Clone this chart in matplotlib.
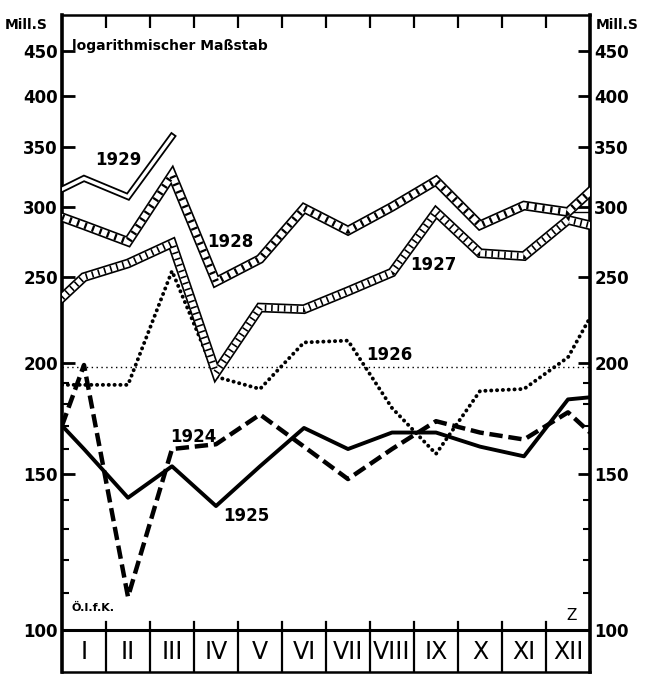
import matplotlib as mpl
mpl.use('Agg')
import matplotlib.pyplot as plt
from matplotlib.ticker import FixedLocator, NullFormatter, FixedFormatter

# month positions: 0.5 = start edge, 1..12 = months, 12.5 = end edge
months = ["I", "II", "III", "IV", "V", "VI", "VII", "VIII", "IX", "X", "XI", "XII"]
x_full = [0.5, 1, 2, 3, 4, 5, 6, 7, 8, 9, 10, 11, 12, 12.5]

v1924 = [170, 199, 109, 160, 162, 175, 161, 148, 160, 172, 167, 164, 176, 167]
v1925 = [170, 160, 141, 153, 138, 153, 169, 160, 167, 167, 161, 157, 182, 183]
v1926 = [189, 189, 189, 254, 193, 187, 211, 212, 178, 158, 186, 187, 203, 225]
v1927 = [237, 250, 259, 273, 195, 231, 230, 241, 253, 296, 266, 264, 290, 286]
v1928 = [292, 286, 274, 326, 247, 262, 299, 282, 300, 321, 286, 301, 296, 312]
x1929 = [0.5, 1, 2, 3]
v1929 = [314, 323, 308, 360]
ref_level = 198

yticks = [100, 150, 200, 250, 300, 350, 400, 450]
yminor = [110, 120, 130, 140, 160, 170, 180, 190]

# label positions (month units, value)
labels = [("1929", 1.77, 339), ("1928", 4.32, 274), ("1927", 8.93, 258),
          ("1926", 7.93, 204), ("1924", 3.48, 165), ("1925", 4.70, 134.5)]

fig = plt.figure(figsize=(6.48, 6.76), dpi=100)
ax = fig.add_axes([62 / 648, 4 / 676, 528 / 648, 657 / 676])
ax.set_yscale('log')
ax.set_xlim(0.5, 12.5)
ax.set_ylim(89.7, 493.6)


def band(x, y, dashes):
    ax.plot(x, y, color='black', lw=7.0, solid_joinstyle='miter', zorder=3)
    ax.plot(x, y, color='white', lw=4.6, solid_joinstyle='miter', zorder=4)
    ax.plot(x, y, color='black', lw=4.6, linestyle=(0, dashes),
            dash_capstyle='butt', zorder=5)


# reference line
ax.plot([0.5, 12.5], [ref_level, ref_level], color='black', lw=1.0,
        linestyle=(0, (1, 2.5)), zorder=2)

band(x_full, v1927, (0.25, 0.75))
band(x_full, v1928, (0.35, 0.9))
# thin line after XII for 1928
ax.plot([12, 12.5], [v1928[-2], v1928[-2]], color='black', lw=1.0, zorder=2)

# 1929 double line
ax.plot(x1929, v1929, color='black', lw=5.0, solid_joinstyle='miter', zorder=3)
ax.plot(x1929, v1929, color='white', lw=2.4, solid_joinstyle='miter', zorder=4)

ax.plot(x_full, v1926, color='black', lw=2.8, linestyle=(0, (0.05, 1.45)),
        dash_capstyle='round', zorder=3)
ax.plot(x_full, v1924, color='black', lw=3.2, linestyle=(0, (3, 1.3)),
        zorder=3)
ax.plot(x_full, v1925, color='black', lw=2.8, zorder=3)

# month boxes below the 100 line
ax.axhline(100, color='black', lw=2.2, zorder=6)
for b in range(1, 12):
    ax.plot([b + 0.5, b + 0.5], [89.7, 102], color='black', lw=1.6, zorder=6)
for i, m in enumerate(months):
    ax.text(i + 1, 94.6, m, ha='center', va='center', fontsize=17)

# axes styling
ax.set_xticks([b + 0.5 for b in range(1, 12)])
ax.tick_params(axis='x', which='both', top=True, bottom=False, labelbottom=False,
               direction='in', length=9, width=1.6)
ax.yaxis.set_major_locator(FixedLocator(yticks))
ax.yaxis.set_major_formatter(FixedFormatter([str(t) for t in yticks]))
ax.yaxis.set_minor_locator(FixedLocator(yminor))
ax.yaxis.set_minor_formatter(NullFormatter())
ax.tick_params(axis='y', which='major', left=True, right=True, labelleft=True,
               labelright=True, direction='in', length=9, width=2.0, pad=3)
ax.tick_params(axis='y', which='minor', left=True, right=True,
               direction='in', length=5, width=1.5)
for lab in ax.get_yticklabels():
    lab.set_fontsize(12)
    lab.set_fontweight('bold')
ax.spines['left'].set_linewidth(2.6)
ax.spines['right'].set_linewidth(2.6)
ax.spines['top'].set_linewidth(1.8)
ax.spines['bottom'].set_linewidth(1.8)

for txt, lx, ly in labels:
    ax.text(lx, ly, txt, ha='center', va='center', fontsize=12, fontweight='bold')
ax.text(0.73, 456, "logarithmischer Maßstab", ha='left', va='center',
        fontsize=10, fontweight='bold')
ax.text(0.72, 106, "Ö.I.f.K.", ha='left', va='center', fontsize=8,
        fontweight='bold')
ax.text(12.09, 104, "Z", ha='center', va='center', fontsize=11)

fig.text(5 / 648, 1 - 25 / 676, "Mill.S", ha='left', va='center',
         fontsize=10, fontweight='bold')
fig.text(596 / 648, 1 - 25 / 676, "Mill.S", ha='left', va='center',
         fontsize=10, fontweight='bold')

fig.savefig("out.png", dpi=100)
